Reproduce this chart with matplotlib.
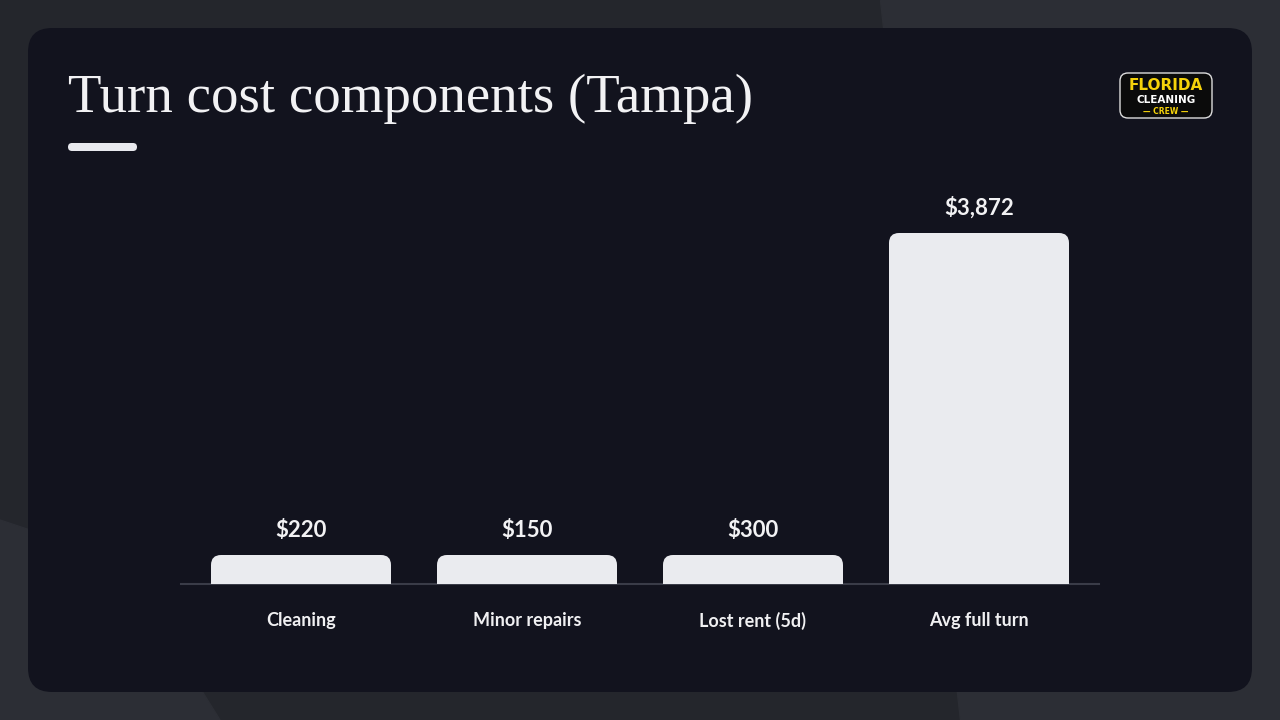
import matplotlib.pyplot as plt
from matplotlib.patches import FancyBboxPatch, Rectangle, Polygon

categories = ["Cleaning", "Minor repairs", "Lost rent (5d)", "Avg full turn"]
values = [220, 150, 300, 3872]
labels = ["$220", "$150", "$300", "$3,872"]

W, H = 1280, 720
fig = plt.figure(figsize=(12.8, 7.2), dpi=100)
fig.patch.set_facecolor("#24262c")

# background shapes + card (pixel coords, y from top)
bg = fig.add_axes([0, 0, 1, 1])
bg.set_xlim(0, W); bg.set_ylim(H, 0); bg.axis("off")
bg.add_patch(Polygon([(880, 0), (1280, 0), (1280, 720), (960, 720)], color="#2c2e35", zorder=0))
bg.add_patch(Polygon([(0, 520), (120, 560), (220, 720), (0, 720)], color="#2c2e35", zorder=0))
bg.add_patch(FancyBboxPatch((28, 28), 1224, 664, boxstyle="round,pad=0,rounding_size=24",
                            fc="#12131e", ec="none", zorder=1))
bg.text(68, 99, "Turn cost components (Tampa)", family="Liberation Serif", fontsize=39.5,
        color="#f2f2f4", va="center", ha="left", zorder=2)
bg.add_patch(FancyBboxPatch((68, 143), 69, 8, boxstyle="round,pad=0,rounding_size=4",
                            fc="#e8e9ee", ec="none", zorder=2))
# logo badge
bg.add_patch(FancyBboxPatch((1120, 73), 92, 45, boxstyle="round,pad=0,rounding_size=8",
                            fc="#0b0b0b", ec="#dddddd", lw=1, zorder=2))
bg.text(1166, 86, "FLORIDA", fontsize=11, weight="black", color="#f5d20a", ha="center", va="center", zorder=3)
bg.text(1166, 100, "CLEANING", fontsize=7.5, weight="bold", color="white", ha="center", va="center", zorder=3)
bg.text(1166, 111, "— CREW —", fontsize=5.5, weight="bold", color="#f5d20a", ha="center", va="center", zorder=3)

# chart axes: x from 181 to 1099 px, bottom at 584 px
ax = fig.add_axes([181 / W, 1 - 584 / H, (1099 - 181) / W, (584 - 180) / H])
ax.set_facecolor("none")
ax.set_xlim(-0.531, 3.531)
ymax = max(values) * 404 / 351
ax.set_ylim(0, ymax)
for s in ["top", "right", "left"]:
    ax.spines[s].set_visible(False)
ax.spines["bottom"].set_color("#3a3c48")
ax.spines["bottom"].set_linewidth(1.5)
ax.set_yticks([])
ax.set_xticks(range(len(categories)))
ax.set_xticklabels(categories, fontsize=13, weight="bold", color="#f0f0f2", family="Lato")
ax.tick_params(axis="x", length=0, pad=20)

min_h = max(values) * 29 / 351  # visual minimum bar height
bw = 180 / 226
for i, (v, lab) in enumerate(zip(values, labels)):
    h = max(v, min_h)
    x0, y0 = ax.transData.transform((i - bw / 2, 0))
    x1, y1 = ax.transData.transform((i + bw / 2, h))
    inv = fig.transFigure.inverted()
    (fx0, fy0), (fx1, fy1) = inv.transform((x0, y0)), inv.transform((x1, y1))
    r = 10 / W
    fig.patches.append(FancyBboxPatch((fx0, fy0), fx1 - fx0, fy1 - fy0,
                                      boxstyle=f"round,pad=0,rounding_size={r}",
                                      mutation_aspect=W / H, fc="#eaebef", ec="none",
                                      transform=fig.transFigure, zorder=3))
    fig.patches.append(Rectangle((fx0, fy0), fx1 - fx0, (fy1 - fy0) / 2, fc="#eaebef", ec="none",
                                 transform=fig.transFigure, zorder=3))
    ax.annotate(lab, (i, h), xytext=(0, 10), textcoords="offset points", ha="center", va="bottom",
                fontsize=16, weight="bold", color="#f2f2f4", family="Lato")

fig.savefig("out.png", dpi=100, facecolor=fig.get_facecolor())
